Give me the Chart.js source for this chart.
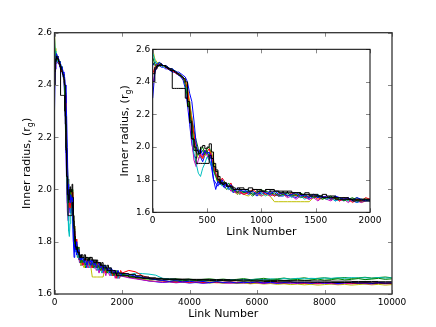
<!DOCTYPE html>
<html>
<head>
<meta charset="utf-8">
<script src="https://cdn.jsdelivr.net/npm/chart.js@4.4.1/dist/chart.umd.min.js"></script>
<style>
  body { margin: 0; background: #fff; }
  #wrap { position: relative; width: 436px; height: 327px; background: #fff; }
  #main { position: absolute; left: 0; top: 0; }
  #inset { position: absolute; left: 105px; top: 40px; }
</style>
</head>
<body>
<div id="wrap">
  <canvas id="main" width="436" height="327"></canvas>
  <canvas id="inset" width="285" height="205"></canvas>
</div>
<script>
// link numbers shared by every chain
const linkNumbers = [0,20,40,60,80,100,120,140,160,180,
  200,220,240,260,280,300,320,340,360,380,
  400,420,440,460,480,500,520,540,560,580,
  600,620,640,660,680,700,720,740,760,780,
  800,840,880,920,960,1000,1040,1080,1120,1160,
  1200,1240,1280,1320,1360,1400,1440,1480,1520,1560,
  1600,1640,1680,1720,1760,1800,1840,1880,1920,1960,
  2000,2200,2400,2600,2800,3000,3200,3400,3600,3800,
  4000,4200,4400,4600,4800,5000,5200,5400,5600,5800,
  6000,6200,6400,6600,6800,7000,7200,7400,7600,7800,
  8000,8200,8400,8600,8800,9000,9200,9400,9600,9800,
  10000]

// inner radius (r_g) per chain
const chainBlue = [2.30,2.46,2.50,2.52,2.51,2.50,2.50,2.49,2.48,2.48,
  2.47,2.46,2.46,2.45,2.44,2.43,2.40,2.33,2.28,2.16,
  2.02,1.96,1.99,1.95,1.98,1.96,1.97,1.92,1.80,1.74,
  1.79,1.77,1.80,1.76,1.78,1.75,1.77,1.74,1.73,1.75,
  1.73,1.74,1.72,1.73,1.71,1.73,1.72,1.71,1.73,1.71,
  1.72,1.70,1.71,1.72,1.70,1.71,1.69,1.71,1.70,1.69,
  1.70,1.68,1.70,1.69,1.68,1.69,1.67,1.69,1.68,1.67,
  1.68,1.675,1.668,1.664,1.66,1.655,1.652,1.648,1.651,1.646,
  1.649,1.645,1.648,1.643,1.647,1.644,1.646,1.642,1.645,1.643,
  1.646,1.642,1.645,1.641,1.644,1.646,1.642,1.644,1.641,1.645,
  1.642,1.644,1.64,1.643,1.645,1.641,1.643,1.64,1.644,1.642,
  1.643]
const chainBlue2 = [2.50,2.52,2.51,2.50,2.49,2.49,2.48,2.48,2.47,2.46,
  2.46,2.45,2.44,2.43,2.41,2.36,2.26,2.14,2.02,1.95,
  1.93,1.96,1.94,1.91,1.95,1.97,1.93,1.88,1.80,1.78,
  1.76,1.79,1.77,1.75,1.76,1.74,1.75,1.72,1.73,1.71,
  1.72,1.73,1.71,1.72,1.70,1.72,1.71,1.73,1.71,1.70,
  1.70,1.72,1.70,1.69,1.71,1.70,1.68,1.70,1.69,1.70,
  1.68,1.69,1.67,1.68,1.67,1.69,1.67,1.66,1.67,1.68,
  1.67,1.665,1.66,1.655,1.65,1.647,1.644,1.646,1.643,1.645,
  1.642,1.644,1.641,1.643,1.645,1.642,1.644,1.641,1.643,1.64,
  1.642,1.644,1.641,1.643,1.64,1.642,1.644,1.641,1.643,1.64,
  1.642,1.639,1.641,1.643,1.64,1.642,1.639,1.641,1.643,1.64,
  1.641]
const chainGreen = [2.55,2.51,2.49,2.50,2.51,2.50,2.49,2.49,2.48,2.47,
  2.47,2.46,2.45,2.44,2.43,2.38,2.30,2.22,2.12,2.03,
  1.97,1.95,1.98,2.00,1.96,1.98,1.94,1.93,1.86,1.82,
  1.78,1.80,1.77,1.79,1.76,1.78,1.75,1.73,1.74,1.72,
  1.74,1.72,1.73,1.71,1.72,1.74,1.72,1.71,1.72,1.70,
  1.71,1.72,1.70,1.71,1.69,1.70,1.71,1.69,1.70,1.68,
  1.69,1.70,1.68,1.69,1.67,1.68,1.69,1.67,1.68,1.68,
  1.675,1.67,1.664,1.66,1.657,1.655,1.652,1.655,1.65,1.653,
  1.65,1.652,1.649,1.651,1.648,1.652,1.65,1.653,1.649,1.651,
  1.654,1.65,1.652,1.655,1.651,1.653,1.656,1.652,1.654,1.657,
  1.653,1.655,1.658,1.654,1.656,1.659,1.655,1.657,1.66,1.656,
  1.658]
const chainGreen2 = [2.52,2.50,2.51,2.52,2.51,2.50,2.49,2.49,2.48,2.47,
  2.46,2.46,2.45,2.44,2.42,2.40,2.34,2.26,2.18,2.10,
  2.04,1.99,1.96,1.98,1.95,1.99,2.00,1.96,1.90,1.84,
  1.79,1.77,1.79,1.76,1.74,1.75,1.73,1.74,1.72,1.73,
  1.71,1.73,1.72,1.70,1.72,1.71,1.73,1.72,1.70,1.71,
  1.72,1.70,1.71,1.70,1.72,1.70,1.69,1.71,1.69,1.70,
  1.69,1.68,1.70,1.68,1.69,1.67,1.68,1.69,1.67,1.68,
  1.676,1.67,1.666,1.662,1.66,1.657,1.659,1.656,1.658,1.655,
  1.657,1.654,1.656,1.658,1.655,1.657,1.654,1.656,1.659,1.655,
  1.657,1.66,1.656,1.658,1.661,1.657,1.659,1.662,1.658,1.66,
  1.662,1.659,1.661,1.663,1.66,1.662,1.664,1.661,1.663,1.665,
  1.662]
const chainRed = [2.45,2.49,2.51,2.50,2.51,2.50,2.49,2.48,2.48,2.47,
  2.46,2.45,2.45,2.44,2.43,2.40,2.36,2.24,2.16,2.08,
  2.00,1.97,1.95,1.93,1.98,1.97,1.99,1.94,1.88,1.83,
  1.80,1.78,1.81,1.79,1.77,1.76,1.78,1.74,1.73,1.72,
  1.73,1.71,1.72,1.74,1.72,1.73,1.71,1.72,1.70,1.72,
  1.71,1.70,1.72,1.70,1.71,1.69,1.70,1.70,1.68,1.69,
  1.70,1.68,1.69,1.67,1.69,1.68,1.66,1.68,1.67,1.69,
  1.68,1.69,1.685,1.67,1.662,1.656,1.65,1.648,1.646,1.648,
  1.645,1.647,1.644,1.646,1.643,1.645,1.647,1.644,1.646,1.642,
  1.645,1.643,1.646,1.644,1.642,1.645,1.643,1.641,1.644,1.642,
  1.645,1.643,1.641,1.644,1.642,1.64,1.643,1.641,1.644,1.642,
  1.641]
const chainCyan = [2.58,2.53,2.51,2.50,2.50,2.49,2.50,2.49,2.48,2.48,
  2.47,2.46,2.45,2.44,2.43,2.40,2.32,2.22,2.08,1.96,
  1.90,1.84,1.82,1.87,1.90,1.94,1.92,1.89,1.85,1.82,
  1.80,1.78,1.76,1.78,1.76,1.74,1.75,1.73,1.74,1.72,
  1.73,1.72,1.74,1.71,1.73,1.72,1.70,1.72,1.71,1.73,
  1.70,1.71,1.69,1.71,1.70,1.68,1.70,1.69,1.71,1.69,
  1.68,1.69,1.67,1.68,1.69,1.67,1.68,1.66,1.68,1.67,
  1.67,1.672,1.68,1.678,1.676,1.672,1.66,1.658,1.656,1.652,
  1.655,1.65,1.653,1.651,1.654,1.652,1.655,1.653,1.656,1.654,
  1.657,1.655,1.658,1.656,1.659,1.657,1.66,1.658,1.66,1.659,
  1.661,1.66,1.662,1.66,1.663,1.661,1.662,1.66,1.663,1.661,
  1.662]
const chainMagenta = [2.38,2.46,2.49,2.50,2.51,2.50,2.50,2.49,2.48,2.47,
  2.46,2.46,2.45,2.44,2.42,2.39,2.31,2.20,2.04,1.92,
  1.88,1.92,1.96,1.94,1.98,1.95,1.92,1.96,1.88,1.84,
  1.81,1.79,1.78,1.76,1.77,1.75,1.73,1.74,1.72,1.73,
  1.72,1.71,1.73,1.71,1.72,1.70,1.72,1.70,1.71,1.70,
  1.71,1.69,1.70,1.68,1.70,1.69,1.68,1.69,1.67,1.69,
  1.68,1.67,1.69,1.67,1.68,1.66,1.68,1.67,1.66,1.67,
  1.668,1.662,1.658,1.654,1.65,1.648,1.645,1.647,1.644,1.646,
  1.643,1.645,1.642,1.644,1.646,1.643,1.641,1.644,1.642,1.645,
  1.643,1.64,1.643,1.641,1.644,1.642,1.64,1.643,1.641,1.639,
  1.642,1.64,1.638,1.641,1.639,1.642,1.64,1.638,1.641,1.639,
  1.64]
const chainYellow = [2.60,2.54,2.52,2.51,2.50,2.50,2.49,2.49,2.48,2.47,
  2.47,2.46,2.45,2.44,2.43,2.41,2.37,2.28,2.18,2.06,
  1.97,1.93,1.95,1.93,1.95,1.96,1.95,1.98,1.92,1.86,
  1.83,1.80,1.79,1.78,1.77,1.75,1.74,1.73,1.72,1.71,
  1.72,1.71,1.70,1.72,1.71,1.70,1.71,1.70,1.665,1.665,
  1.665,1.665,1.665,1.665,1.665,1.665,1.665,1.69,1.70,1.68,
  1.69,1.68,1.69,1.67,1.68,1.69,1.67,1.68,1.66,1.67,
  1.67,1.665,1.66,1.656,1.652,1.648,1.65,1.646,1.648,1.645,
  1.647,1.643,1.645,1.642,1.644,1.641,1.643,1.64,1.642,1.639,
  1.641,1.638,1.64,1.637,1.639,1.636,1.638,1.635,1.637,1.634,
  1.636,1.638,1.635,1.637,1.634,1.636,1.638,1.635,1.637,1.634,
  1.636]
const chainBlack = [2.45,2.49,2.50,2.50,2.50,2.50,2.49,2.48,2.47,2.36,
  2.36,2.36,2.36,2.36,2.36,2.30,2.25,2.15,2.05,1.98,
  1.90,1.90,1.90,1.90,1.90,1.90,1.95,1.93,1.88,1.86,
  1.80,1.78,1.78,1.78,1.76,1.76,1.76,1.74,1.74,1.75,
  1.74,1.74,1.73,1.74,1.73,1.73,1.74,1.73,1.73,1.72,
  1.73,1.72,1.72,1.72,1.71,1.72,1.71,1.71,1.70,1.71,
  1.70,1.70,1.69,1.69,1.69,1.68,1.68,1.68,1.68,1.68,
  1.678,1.675,1.67,1.665,1.662,1.66,1.658,1.658,1.657,1.657,
  1.656,1.656,1.656,1.655,1.655,1.655,1.654,1.654,1.654,1.653,
  1.653,1.653,1.652,1.652,1.652,1.651,1.651,1.651,1.65,1.65,
  1.65,1.649,1.649,1.649,1.648,1.648,1.648,1.648,1.647,1.647,
  1.647]
const chainBlack2 = [2.40,2.48,2.50,2.51,2.50,2.50,2.49,2.48,2.48,2.47,
  2.46,2.45,2.44,2.43,2.42,2.40,2.28,2.16,2.05,2.00,
  1.98,1.96,2.00,2.01,1.99,2.00,2.02,1.97,1.90,1.85,
  1.82,1.78,1.77,1.78,1.76,1.76,1.75,1.75,1.74,1.74,
  1.75,1.74,1.75,1.74,1.74,1.73,1.74,1.74,1.73,1.73,
  1.72,1.73,1.72,1.72,1.71,1.71,1.70,1.70,1.70,1.69,
  1.69,1.69,1.68,1.68,1.68,1.68,1.67,1.67,1.67,1.67,
  1.67,1.665,1.662,1.66,1.658,1.657,1.656,1.655,1.655,1.654,
  1.654,1.653,1.653,1.652,1.652,1.651,1.651,1.65,1.65,1.649,
  1.649,1.648,1.648,1.647,1.647,1.646,1.646,1.646,1.645,1.645,
  1.645,1.644,1.644,1.644,1.643,1.643,1.643,1.642,1.642,1.642,
  1.642]

const mainXTicks = [0, 2000, 4000, 6000, 8000, 10000]
const insetXTicks = [0, 500, 1000, 1500, 2000]
const yTicks = [1.6, 1.8, 2.0, 2.2, 2.4, 2.6]

const chains = [
  { values: chainBlack, color: '#000000', stepped: true },
  { values: chainBlack2, color: '#000000', stepped: true },
  { values: chainBlue, color: '#0000ff' },
  { values: chainGreen, color: '#008000' },
  { values: chainRed, color: '#ff0000' },
  { values: chainCyan, color: '#00bfbf' },
  { values: chainMagenta, color: '#bf00bf' },
  { values: chainYellow, color: '#bfbf00' },
  { values: chainBlue2, color: '#0000ff' },
  { values: chainGreen2, color: '#008000' },
]

const FONT = '"DejaVu Sans", "Liberation Sans", sans-serif'

function getDatasets() {
  return chains.map(c => ({
    data: linkNumbers.map((x, i) => ({ x: x, y: c.values[i] })),
    borderColor: c.color,
    borderWidth: 1,
    pointRadius: 0,
    stepped: c.stepped || false,
    tension: 0,
  }))
}

// frame, inward ticks on all four sides, axis titles with subscript g
const framePlugin = {
  id: 'frame',
  beforeDraw(chart, args, opts) {
    if (!opts.fillArea) return
    const a = chart.chartArea
    const ctx = chart.ctx
    ctx.save()
    ctx.fillStyle = '#fff'
    ctx.fillRect(a.left, a.top, a.right - a.left, a.bottom - a.top)
    ctx.restore()
  },
  afterDatasetsDraw(chart, args, opts) {
    const a = chart.chartArea
    const ctx = chart.ctx
    const xs = chart.scales.x, ys = chart.scales.y
    ctx.save()
    ctx.strokeStyle = '#888'
    ctx.lineWidth = 1
    ctx.beginPath()
    xs.ticks.forEach(t => {
      const px = Math.round(xs.getPixelForValue(t.value)) + 0.5
      ctx.moveTo(px, a.bottom); ctx.lineTo(px, a.bottom - 4)
      ctx.moveTo(px, a.top); ctx.lineTo(px, a.top + 4)
    })
    ys.ticks.forEach(t => {
      const py = Math.round(ys.getPixelForValue(t.value)) + 0.5
      ctx.moveTo(a.left, py); ctx.lineTo(a.left + 4, py)
      ctx.moveTo(a.right, py); ctx.lineTo(a.right - 4, py)
    })
    ctx.stroke()
    ctx.strokeStyle = opts.frameColor
    ctx.lineWidth = opts.frameWidth
    ctx.strokeRect(a.left, a.top, a.right - a.left, a.bottom - a.top)
    ctx.restore()
  },
  afterDraw(chart, args, opts) {
    const a = chart.chartArea
    const ctx = chart.ctx
    ctx.save()
    ctx.fillStyle = '#000'
    ctx.font = '11px ' + FONT
    ctx.textBaseline = 'alphabetic'
    // x title
    ctx.textAlign = 'center'
    ctx.fillText('Link Number', (a.left + a.right) / 2, opts.xTitleBaseline)
    // y title, rotated, with subscript
    const t1 = 'Inner radius, (r', t2 = 'g', t3 = ')'
    ctx.translate(opts.yTitleBaseline, (a.top + a.bottom) / 2)
    ctx.rotate(-Math.PI / 2)
    ctx.textAlign = 'left'
    const w1 = ctx.measureText(t1).width
    const w3 = ctx.measureText(t3).width
    ctx.font = '8px ' + FONT
    const w2 = ctx.measureText(t2).width
    let x0 = -(w1 + w2 + w3) / 2
    ctx.font = '11px ' + FONT
    ctx.fillText(t1, x0, 0)
    ctx.font = '8px ' + FONT
    ctx.fillText(t2, x0 + w1, 3)
    ctx.font = '11px ' + FONT
    ctx.fillText(t3, x0 + w1 + w2, 0)
    ctx.restore()
  }
}

function makeChart(canvas, cfg) {
  return new Chart(canvas, {
    type: 'line',
    data: { datasets: getDatasets() },
    options: {
      responsive: false,
      animation: false,
      events: [],
      layout: { padding: cfg.padding },
      plugins: {
        legend: { display: false },
        tooltip: { enabled: false },
        frame: cfg.frame,
      },
      scales: {
        x: {
          type: 'linear',
          min: 0,
          max: cfg.xMax,
          afterBuildTicks: s => { s.ticks = cfg.xTicks.map(v => ({ value: v })) },
          afterFit: s => { s.height = cfg.xHeight },
          grid: { display: false, drawTicks: false },
          border: { display: false },
          ticks: {
            padding: 3,
            maxRotation: 0,
            autoSkip: false,
            color: '#000',
            font: { family: FONT, size: 9 },
            callback: v => String(v),
          },
        },
        y: {
          type: 'linear',
          min: 1.6,
          max: 2.6,
          afterBuildTicks: s => { s.ticks = yTicks.map(v => ({ value: v })) },
          afterFit: s => { s.width = cfg.yWidth },
          grid: { display: false, drawTicks: false },
          border: { display: false },
          ticks: {
            padding: 2.5,
            autoSkip: false,
            color: '#000',
            font: { family: FONT, size: 9 },
            callback: v => v.toFixed(1),
          },
        },
      },
    },
    plugins: [framePlugin],
  })
}

makeChart(document.getElementById('main'), {
  padding: { top: 32.7, right: 44, left: 0, bottom: 0 },
  xMax: 10000,
  xTicks: mainXTicks,
  xHeight: 33,
  yWidth: 54.5,
  frame: { fillArea: false, frameColor: '#333', frameWidth: 1.3, xTitleBaseline: 316.5, yTitleBaseline: 30 },
})

makeChart(document.getElementById('inset'), {
  padding: { top: 9.3, right: 20, left: 0, bottom: 0 },
  xMax: 2000,
  xTicks: insetXTicks,
  xHeight: 32.7,
  yWidth: 47.7,
  frame: { fillArea: true, frameColor: '#000', frameWidth: 1, xTitleBaseline: 195, yTitleBaseline: 23.3 },
})
</script>
</body>
</html>
